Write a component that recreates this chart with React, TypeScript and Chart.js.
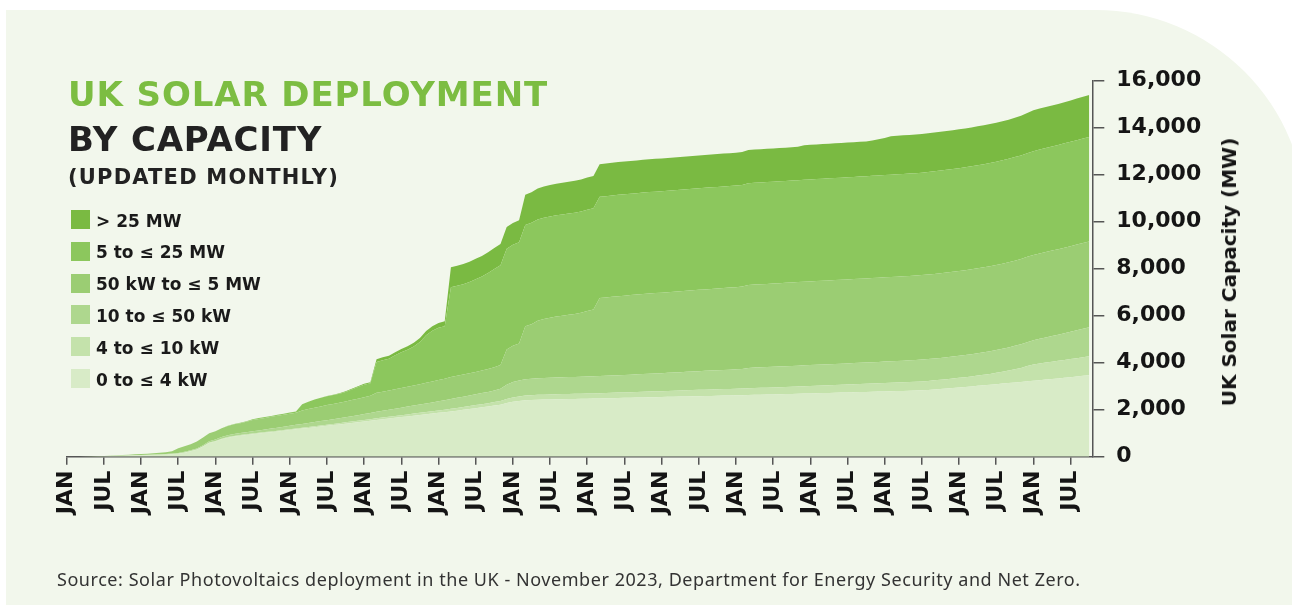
import React, { useEffect, useRef } from "react";
import { Chart, registerables } from "chart.js";

Chart.register(...registerables);

// Months since JAN 2010 (0 = Jan 2010 ... 165 = Oct 2023)
const MONTH_COUNT = 166;
const MONTHS: number[] = Array.from({ length: MONTH_COUNT }, (_, i) => i);
const TICK_LABELS = ["JAN", "JUL"];
const Y_TICKS_MAX = 16000;
const Y_TICK_STEP = 2000;

const SERIES_NAMES = [
  "0 to ≤ 4 kW",
  "4 to ≤ 10 kW",
  "10 to ≤ 50 kW",
  "50 kW to ≤ 5 MW",
  "5 to ≤ 25 MW",
  "> 25 MW",
];
const SERIES_COLORS = ["#d8ebc7", "#c4e2ab", "#aed78e", "#9bcd73", "#8cc75d", "#7aba42"];

// Capacity (MW) in each band, monthly
const upTo4kW = [
  0, 0, 0, 5, 10, 15, 20, 25, 30, 38, 45, 55,
  60, 65, 72, 80, 90, 105, 130, 170, 230, 300, 430, 580,
  650, 740, 810, 860, 895, 925, 955, 985, 1015, 1045, 1075, 1105,
  1135, 1165, 1195, 1225, 1255, 1285, 1315, 1345, 1375, 1405, 1435, 1465,
  1495, 1530, 1565, 1595, 1625, 1655, 1685, 1715, 1745, 1775, 1805, 1835,
  1865, 1895, 1925, 1960, 1995, 2030, 2065, 2100, 2135, 2175, 2215, 2285,
  2335, 2370, 2400, 2415, 2425, 2432, 2438, 2444, 2450, 2455, 2460, 2465,
  2470, 2475, 2480, 2486, 2492, 2498, 2504, 2510, 2516, 2522, 2528, 2534,
  2540, 2546, 2552, 2558, 2564, 2570, 2576, 2582, 2588, 2594, 2600, 2606,
  2612, 2618, 2624, 2631, 2638, 2645, 2652, 2659, 2666, 2673, 2680, 2687,
  2694, 2701, 2708, 2715, 2722, 2729, 2736, 2743, 2750, 2757, 2764, 2771,
  2778, 2785, 2792, 2799, 2806, 2813, 2825, 2840, 2858, 2878, 2900, 2922,
  2945, 2968, 2992, 3016, 3040, 3064, 3088, 3112, 3136, 3160, 3184, 3208,
  3232, 3256, 3280, 3304, 3330, 3358, 3386, 3414, 3442, 3470,
];
const from4to10kW = [
  0, 0, 0, 0, 1, 2, 2, 3, 3, 4, 4, 5,
  5, 6, 6, 7, 8, 9, 10, 11, 13, 15, 17, 20,
  22, 24, 25, 26, 27, 28, 29, 30, 31, 32, 33, 34,
  36, 38, 40, 42, 44, 46, 48, 50, 53, 56, 59, 62,
  65, 68, 71, 74, 77, 80, 83, 86, 89, 92, 96, 100,
  104, 108, 112, 116, 120, 125, 130, 136, 142, 150, 160, 175,
  185, 192, 200, 203, 206, 208, 210, 212, 213, 214, 215, 216,
  217, 218, 220, 223, 226, 229, 232, 235, 238, 241, 244, 247,
  250, 253, 256, 259, 262, 265, 268, 271, 273, 275, 277, 279,
  281, 283, 285, 288, 291, 294, 297, 300, 303, 306, 309, 312,
  315, 318, 321, 324, 327, 330, 333, 336, 340, 344, 348, 352,
  356, 360, 364, 368, 372, 376, 380, 385, 390, 395, 400, 405,
  410, 417, 425, 435, 447, 460, 480, 505, 535, 565, 595, 650,
  690, 710, 725, 738, 750, 760, 770, 780, 790, 800,
];
const from10to50kW = [
  0, 0, 0, 0, 2, 3, 4, 5, 6, 7, 8, 9,
  10, 11, 12, 14, 16, 18, 22, 26, 30, 36, 44, 55,
  62, 70, 76, 80, 86, 92, 98, 104, 110, 118, 126, 135,
  145, 152, 160, 168, 176, 184, 192, 200, 210, 220, 230, 242,
  255, 265, 280, 290, 300, 310, 320, 330, 340, 350, 362, 375,
  390, 400, 420, 430, 440, 450, 460, 470, 480, 495, 515, 600,
  660, 680, 700, 703, 706, 709, 712, 715, 717, 719, 721, 723,
  725, 727, 730, 733, 736, 739, 742, 746, 750, 754, 758, 762,
  766, 770, 775, 780, 785, 790, 795, 800, 805, 810, 815, 820,
  825, 835, 870, 872, 874, 876, 878, 880, 882, 884, 886, 888,
  890, 892, 894, 896, 898, 900, 902, 904, 906, 908, 910, 912,
  914, 916, 918, 920, 922, 924, 926, 928, 930, 932, 934, 936,
  938, 940, 945, 950, 956, 962, 968, 974, 980, 992, 1004, 1016,
  1030, 1050, 1070, 1090, 1110, 1135, 1160, 1185, 1210, 1235,
];
const from50kWto5MW = [
  0, 0, 0, 0, 2, 5, 9, 12, 16, 21, 28, 31,
  40, 45, 55, 65, 80, 100, 200, 240, 260, 300, 330, 345,
  350, 380, 400, 410, 420, 440, 480, 490, 495, 500, 505, 510,
  515, 520, 570, 590, 610, 625, 640, 650, 660, 670, 685, 700,
  720, 735, 800, 810, 820, 830, 840, 850, 860, 870, 880, 890,
  900, 910, 930, 935, 940, 945, 950, 960, 975, 990, 1010, 1500,
  1540, 1580, 2250, 2320, 2450, 2510, 2550, 2590, 2620, 2650, 2675, 2720,
  2790, 2845, 3320, 3335, 3350, 3365, 3375, 3385, 3395, 3405, 3412, 3418,
  3424, 3430, 3436, 3442, 3448, 3454, 3460, 3466, 3472, 3478, 3484, 3490,
  3496, 3502, 3530, 3533, 3536, 3539, 3542, 3545, 3548, 3551, 3554, 3557,
  3560, 3562, 3564, 3566, 3568, 3570, 3572, 3574, 3576, 3578, 3580, 3582,
  3584, 3586, 3588, 3590, 3592, 3594, 3596, 3598, 3600, 3602, 3604, 3606,
  3608, 3610, 3612, 3614, 3616, 3618, 3620, 3622, 3624, 3626, 3628, 3630,
  3632, 3634, 3636, 3638, 3640, 3642, 3644, 3646, 3648, 3650,
];
const from5to25MW = [
  0, 0, 0, 0, 0, 0, 0, 0, 0, 0, 0, 0,
  0, 0, 0, 0, 0, 0, 0, 0, 0, 0, 0, 0,
  0, 0, 10, 15, 20, 25, 30, 35, 38, 40, 42, 44,
  46, 48, 265, 310, 345, 370, 375, 380, 385, 405, 450, 495,
  525, 530, 1314, 1336, 1348, 1440, 1512, 1569, 1656, 1793, 2027, 2160,
  2231, 2237, 3820, 3830, 3845, 3885, 3945, 3999, 4088, 4180, 4250, 4290,
  4300, 4300, 4310, 4310, 4310, 4310, 4310, 4310, 4310, 4310, 4310, 4310,
  4310, 4310, 4310, 4311, 4312, 4313, 4314, 4315, 4316, 4317, 4318, 4318,
  4319, 4319, 4320, 4320, 4321, 4321, 4322, 4322, 4323, 4323, 4324, 4324,
  4325, 4326, 4330, 4331, 4332, 4333, 4334, 4335, 4336, 4337, 4338, 4339,
  4340, 4341, 4342, 4343, 4344, 4345, 4346, 4347, 4348, 4349, 4350, 4351,
  4352, 4353, 4354, 4355, 4356, 4357, 4360, 4363, 4366, 4369, 4372, 4375,
  4378, 4381, 4384, 4387, 4390, 4393, 4396, 4399, 4402, 4406, 4410, 4414,
  4418, 4422, 4426, 4430, 4434, 4438, 4441, 4444, 4447, 4450,
];
const over25MW = [
  0, 0, 0, 0, 0, 0, 0, 0, 0, 0, 0, 0,
  0, 0, 0, 0, 0, 0, 0, 0, 0, 0, 0, 0,
  0, 0, 0, 0, 0, 0, 0, 0, 0, 0, 0, 0,
  0, 0, 0, 0, 0, 0, 10, 15, 20, 25, 30, 35,
  40, 45, 120, 125, 130, 135, 140, 150, 160, 170, 180, 190,
  200, 210, 850, 855, 860, 865, 870, 875, 880, 890, 900, 920,
  930, 940, 1290, 1300, 1320, 1330, 1340, 1345, 1350, 1355, 1360, 1365,
  1370, 1375, 1390, 1391, 1392, 1392, 1393, 1393, 1394, 1394, 1395, 1395,
  1395, 1396, 1396, 1396, 1397, 1397, 1397, 1398, 1398, 1398, 1399, 1399,
  1400, 1405, 1412, 1413, 1414, 1415, 1415, 1416, 1417, 1418, 1420, 1470,
  1472, 1474, 1475, 1476, 1477, 1478, 1479, 1480, 1481, 1482, 1500, 1540,
  1580, 1640, 1641, 1642, 1643, 1644, 1645, 1646, 1647, 1648, 1649, 1650,
  1651, 1652, 1653, 1655, 1656, 1657, 1658, 1659, 1660, 1670, 1690, 1710,
  1740, 1742, 1744, 1746, 1748, 1750, 1760, 1770, 1780, 1790,
];

const SERIES_VALUES = [upTo4kW, from4to10kW, from10to50kW, from50kWto5MW, from5to25MW, over25MW];

const FONT = "'DejaVu Sans', sans-serif";
const PANEL_BG = "#f2f7ec";

export default function App() {
  const canvasRef = useRef<HTMLCanvasElement | null>(null);

  useEffect(() => {
    const canvas = canvasRef.current;
    if (!canvas) return;
    const chart = new Chart(canvas, {
      type: "line",
      data: {
        datasets: SERIES_VALUES.map((vals, i) => ({
          label: SERIES_NAMES[i],
          data: vals.map((v, j) => ({ x: MONTHS[j], y: v })),
          backgroundColor: SERIES_COLORS[i],
          borderColor: SERIES_COLORS[i],
          borderWidth: 0,
          pointRadius: 0,
          tension: 0,
          fill: i === 0 ? "origin" : "-1",
        })),
      },
      options: {
        animation: false,
        responsive: false,
        devicePixelRatio: 1,
        layout: { padding: { left: 66.7, top: 80.7, right: 0, bottom: 0 } },
        plugins: { legend: { display: false }, tooltip: { enabled: false } },
        scales: {
          x: {
            type: "linear",
            min: 0,
            max: 165.5,
            afterFit: (s: any) => {
              s.height = 152.3;
            },
            ticks: {
              stepSize: 6,
              includeBounds: false,
              autoSkip: false,
              minRotation: 90,
              maxRotation: 90,
              padding: 6,
              color: "#151515",
              font: { family: FONT, weight: "bold", size: 22 },
              callback: (v: any) => (Number(v) % 12 === 0 ? TICK_LABELS[0] : TICK_LABELS[1]),
            },
            grid: { drawOnChartArea: false, drawTicks: true, tickLength: 8, tickColor: "#555", lineWidth: 1.5 },
            border: { display: true, color: "#555", width: 1.5 },
          },
          y: {
            position: "right",
            stacked: true,
            min: 0,
            max: Y_TICKS_MAX,
            afterFit: (s: any) => {
              s.width = 199.7;
            },
            ticks: {
              stepSize: Y_TICK_STEP,
              padding: 12,
              color: "#151515",
              font: { family: FONT, weight: "bold", size: 22 },
              callback: (v: any) => Number(v).toLocaleString("en-US"),
            },
            grid: { drawOnChartArea: false, drawTicks: true, tickLength: 12, tickColor: "#555", lineWidth: 1.5 },
            border: { display: true, color: "#555", width: 1.5 },
          },
        },
      } as any,
    });
    return () => chart.destroy();
  }, []);

  const legendOrder = [5, 4, 3, 2, 1, 0];

  return (
    <div style={{ position: "fixed", left: 0, top: 0, width: 1292, height: 609, background: "#fff", overflow: "hidden" }}>
      <div
        style={{
          position: "absolute",
          left: 6,
          top: 10,
          width: 1300,
          height: 595,
          background: PANEL_BG,
          borderTopRightRadius: 210,
        }}
      />
      <canvas ref={canvasRef} width={1292} height={609} style={{ position: "absolute", left: 0, top: 0 }} />
      <div
        style={{
          position: "absolute",
          left: 68,
          top: 77,
          fontFamily: FONT,
          fontWeight: "bold",
          fontSize: 34,
          lineHeight: "34px",
          letterSpacing: 0.9,
          color: "#7cbd42",
          whiteSpace: "nowrap",
        }}
      >
        UK SOLAR DEPLOYMENT
      </div>
      <div
        style={{
          position: "absolute",
          left: 68,
          top: 122,
          fontFamily: FONT,
          fontWeight: "bold",
          fontSize: 34,
          lineHeight: "34px",
          letterSpacing: 0.8,
          color: "#222",
          whiteSpace: "nowrap",
        }}
      >
        BY CAPACITY
      </div>
      <div
        style={{
          position: "absolute",
          left: 68,
          top: 166.5,
          fontFamily: FONT,
          fontWeight: "bold",
          fontSize: 21,
          lineHeight: "21px",
          letterSpacing: 1.2,
          color: "#222",
          whiteSpace: "nowrap",
        }}
      >
        (UPDATED MONTHLY)
      </div>
      {legendOrder.map((si, row) => (
        <div
          key={si}
          style={{
            position: "absolute",
            left: 71,
            top: 210 + row * 31.8,
            height: 19,
            display: "flex",
            alignItems: "flex-start",
            whiteSpace: "nowrap",
          }}
        >
          <div style={{ width: 19, height: 19, background: SERIES_COLORS[si] }} />
          <div
            style={{
              marginLeft: 6,
              paddingTop: 1.5,
              fontFamily: FONT,
              fontWeight: "bold",
              fontSize: 17,
              lineHeight: "19px",
              color: "#1a1a1a",
            }}
          >
            {SERIES_NAMES[si]}
          </div>
        </div>
      ))}
      <div
        style={{
          position: "absolute",
          left: 1229,
          top: 271.5,
          transform: "translate(-50%, -50%) rotate(-90deg)",
          fontFamily: FONT,
          fontWeight: "bold",
          fontSize: 20,
          lineHeight: "20px",
          color: "#151515",
          whiteSpace: "nowrap",
        }}
      >
        UK Solar Capacity (MW)
      </div>
      <div
        style={{
          position: "absolute",
          left: 57,
          top: 569,
          fontFamily: "'Noto Sans', sans-serif",
          fontSize: 18,
          lineHeight: "20px",
          letterSpacing: 0.55,
          color: "#333",
          whiteSpace: "nowrap",
        }}
      >
        Source: Solar Photovoltaics deployment in the UK - November 2023, Department for Energy Security and Net Zero.
      </div>
    </div>
  );
}
